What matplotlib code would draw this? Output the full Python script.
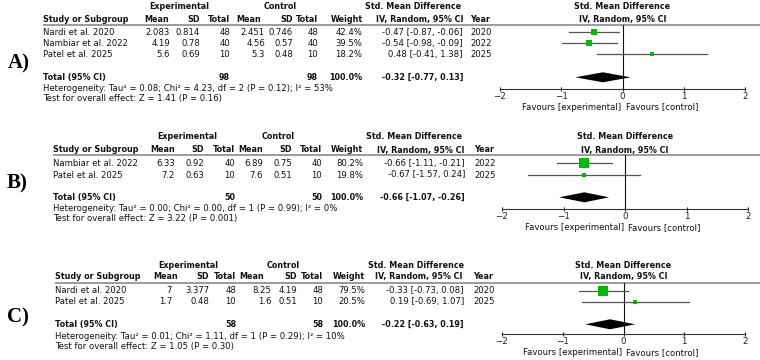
import matplotlib
matplotlib.use("Agg")
import matplotlib.pyplot as plt
from matplotlib.patches import Polygon

# ---------------- data ----------------
# Panel A
studies_A = ["Nardi et al. 2020", "Nambiar et al. 2022", "Patel et al. 2025"]
exp_mean_A = [2.083, 4.19, 5.6]
exp_sd_A = [0.814, 0.78, 0.69]
exp_n_A = [48, 40, 10]
ctl_mean_A = [2.451, 4.56, 5.3]
ctl_sd_A = [0.746, 0.57, 0.48]
ctl_n_A = [48, 40, 10]
weight_A = [42.4, 39.5, 18.2]
smd_A = [-0.47, -0.54, 0.48]
lo_A = [-0.87, -0.98, -0.41]
hi_A = [-0.06, -0.09, 1.38]
year_A = [2020, 2022, 2025]
total_n_A = [98, 98]
total_w_A = 100.0
pooled_A = [-0.32, -0.77, 0.13]
het_A = "Heterogeneity: Tau² = 0.08; Chi² = 4.23, df = 2 (P = 0.12); I² = 53%"
test_A = "Test for overall effect: Z = 1.41 (P = 0.16)"

# Panel B
studies_B = ["Nambiar et al. 2022", "Patel et al. 2025"]
exp_mean_B = [6.33, 7.2]
exp_sd_B = [0.92, 0.63]
exp_n_B = [40, 10]
ctl_mean_B = [6.89, 7.6]
ctl_sd_B = [0.75, 0.51]
ctl_n_B = [40, 10]
weight_B = [80.2, 19.8]
smd_B = [-0.66, -0.67]
lo_B = [-1.11, -1.57]
hi_B = [-0.21, 0.24]
year_B = [2022, 2025]
total_n_B = [50, 50]
total_w_B = 100.0
pooled_B = [-0.66, -1.07, -0.26]
het_B = "Heterogeneity: Tau² = 0.00; Chi² = 0.00, df = 1 (P = 0.99); I² = 0%"
test_B = "Test for overall effect: Z = 3.22 (P = 0.001)"

# Panel C
studies_C = ["Nardi et al. 2020", "Patel et al. 2025"]
exp_mean_C = [7, 1.7]
exp_sd_C = [3.377, 0.48]
exp_n_C = [48, 10]
ctl_mean_C = [8.25, 1.6]
ctl_sd_C = [4.19, 0.51]
ctl_n_C = [48, 10]
weight_C = [79.5, 20.5]
smd_C = [-0.33, 0.19]
lo_C = [-0.73, -0.69]
hi_C = [0.08, 1.07]
year_C = [2020, 2025]
total_n_C = [58, 58]
total_w_C = 100.0
pooled_C = [-0.22, -0.63, 0.19]
het_C = "Heterogeneity: Tau² = 0.01; Chi² = 1.11, df = 1 (P = 0.29); I² = 10%"
test_C = "Test for overall effect: Z = 1.05 (P = 0.30)"

ticks = [-2, -1, 0, 1, 2]

# ---------------- layout (pixels) ----------------
W, H = 760, 360
FS = 6.1
FSB = 5.8
GREEN = "#00bb00"

lay_A = dict(label="A)", lab_x=19, lab_y=63,
             hdr1=6.5, hdr2=19.5, line=25, rows=[32.3, 43.3, 54.3], total=77.3,
             het=88.3, test=99, axis=89, fav=107,
             sx=43, eM=170, eSD=200, eN=230, cM=265, cSD=293, cN=318, Wt=362.5,
             smd=463, yr=470, expc=179, ctlc=280, eMh=157, cMh=248.5,
             smdh1=413, smdh2=419.5, xm2=500, xp2=745)
lay_B = dict(label="B)", lab_x=17, lab_y=183,
             hdr1=136.7, hdr2=150, line=155, rows=[163.3, 175], total=197.3,
             het=208.3, test=219, axis=209.3, fav=227.3,
             sx=53, eM=175, eSD=204, eN=235, cM=263, cSD=292, cN=322, Wt=363,
             smd=465, yr=474, expc=187, ctlc=278.5, eMh=163, cMh=251,
             smdh1=414, smdh2=420.5, xm2=502, xp2=748)
lay_C = dict(label="C)", lab_x=18, lab_y=317,
             hdr1=265, hdr2=276.7, line=282.7, rows=[290.7, 301.7], total=324.3,
             het=336.7, test=346.7, axis=334.3, fav=352.5,
             sx=55, eM=172, eSD=209, eN=236, cM=271, cSD=297, cN=323, Wt=365,
             smd=464, yr=473, expc=188.5, ctlc=283, eMh=166, cMh=252,
             smdh1=416, smdh2=419, xm2=502, xp2=745)

fig = plt.figure(figsize=(W / 100, H / 100), dpi=100)
bg = fig.add_axes([0, 0, 1, 1])
bg.set_xlim(0, W)
bg.set_ylim(H, 0)
bg.axis("off")


def T(x, y, s, ha="left", bold=False, size=None):
    bg.text(x, y, s, ha=ha, va="center",
            fontsize=(size if size else (FSB if bold else FS)),
            fontweight="bold" if bold else "normal", color="#111111")


def fmt_ci(s, l, h):
    return f"{s:.2f} [{l:.2f}, {h:.2f}]"


def panel(L, studies, em, esd, en, cm, csd, cn, wt, smd, lo, hi, yr,
          ntot, wtot, pooled, het, test):
    # label
    bg.text(L["lab_x"], L["lab_y"], L["label"], ha="center", va="center",
            fontsize=15, fontweight="bold", family="Liberation Serif")
    xz = L["xm2"] + (L["xp2"] - L["xm2"]) / 2
    # header row 1
    T(L["expc"], L["hdr1"], "Experimental", ha="center", bold=True)
    T(L["ctlc"], L["hdr1"], "Control", ha="center", bold=True)
    T(L["smdh1"], L["hdr1"], "Std. Mean Difference", ha="center", bold=True)
    T(xz, L["hdr1"], "Std. Mean Difference", ha="center", bold=True)
    # header row 2
    T(L["sx"], L["hdr2"], "Study or Subgroup", bold=True)
    T(L["eMh"], L["hdr2"], "Mean", ha="center", bold=True)
    T(L["eSD"], L["hdr2"], "SD", ha="right", bold=True)
    T(L["eN"], L["hdr2"], "Total", ha="right", bold=True)
    T(L["cMh"], L["hdr2"], "Mean", ha="center", bold=True)
    T(L["cSD"], L["hdr2"], "SD", ha="right", bold=True)
    T(L["cN"], L["hdr2"], "Total", ha="right", bold=True)
    T(L["Wt"], L["hdr2"], "Weight", ha="right", bold=True)
    T(L["smdh2"], L["hdr2"], "IV, Random, 95% CI", ha="center", bold=True)
    T(L["yr"], L["hdr2"], "Year", bold=True)
    T(xz, L["hdr2"], "IV, Random, 95% CI", ha="center", bold=True)
    bg.plot([L["sx"], W], [L["line"], L["line"]], color="#8a8a8a", lw=1.2,
            solid_capstyle="butt")
    # study rows
    for i, y in enumerate(L["rows"]):
        T(L["sx"], y, studies[i])
        T(L["eM"], y, f"{em[i]:g}", ha="right")
        T(L["eSD"], y, f"{esd[i]:g}", ha="right")
        T(L["eN"], y, f"{en[i]}", ha="right")
        T(L["cM"], y, f"{cm[i]:g}", ha="right")
        T(L["cSD"], y, f"{csd[i]:g}", ha="right")
        T(L["cN"], y, f"{cn[i]}", ha="right")
        T(L["Wt"], y, f"{wt[i]:.1f}%", ha="right")
        T(L["smd"], y, fmt_ci(smd[i], lo[i], hi[i]), ha="right")
        T(L["yr"], y, f"{yr[i]}")
    # total row
    y = L["total"]
    T(L["sx"], y, "Total (95% CI)", bold=True)
    T(L["eN"], y, f"{ntot[0]}", ha="right", bold=True)
    T(L["cN"], y, f"{ntot[1]}", ha="right", bold=True)
    T(L["Wt"], y, f"{wtot:.1f}%", ha="right", bold=True)
    T(L["smd"], y, fmt_ci(*pooled), ha="right", bold=True)
    T(L["sx"], L["het"], het)
    T(L["sx"], L["test"], test)
    # forest plot axes
    ax = fig.add_axes([L["xm2"] / W, 1 - L["axis"] / H,
                       (L["xp2"] - L["xm2"]) / W, (L["axis"] - L["line"]) / H])
    ax.set_xlim(ticks[0], ticks[-1])
    ax.set_ylim(L["axis"], L["line"])
    ax.patch.set_alpha(0)
    for s in ["top", "left", "right"]:
        ax.spines[s].set_visible(False)
    ax.spines["bottom"].set_linewidth(0.8)
    ax.spines["bottom"].set_color("#333333")
    ax.set_yticks([])
    ax.set_xticks(ticks)
    ax.set_xticklabels([("−" if t < 0 else "") + str(abs(t)) for t in ticks])
    ax.tick_params(axis="x", direction="inout", length=3.5, width=0.8,
                   labelsize=6.3, pad=0.3, colors="#222222")
    ax.axvline(0, color="#111111", lw=0.8)
    for i, y in enumerate(L["rows"]):
        ax.plot([lo[i], hi[i]], [y, y], color="#555555", lw=0.9, clip_on=False)
        side_px = 0.12 * wt[i] + 1.1
        ax.plot(smd[i], y, marker="s", ms=side_px * 0.72, mew=0, color=GREEN,
                clip_on=False)
    s0, l0, h0 = pooled
    yt = L["total"]
    ax.add_patch(Polygon([(l0, yt), (s0, yt - 5), (h0, yt), (s0, yt + 5)],
                         closed=True, color="black", lw=0, clip_on=False))
    T(xz - 1, L["fav"], "Favours [experimental]", ha="right")
    T(xz + 3, L["fav"], "Favours [control]", ha="left")


panel(lay_A, studies_A, exp_mean_A, exp_sd_A, exp_n_A, ctl_mean_A, ctl_sd_A,
      ctl_n_A, weight_A, smd_A, lo_A, hi_A, year_A, total_n_A, total_w_A,
      pooled_A, het_A, test_A)
panel(lay_B, studies_B, exp_mean_B, exp_sd_B, exp_n_B, ctl_mean_B, ctl_sd_B,
      ctl_n_B, weight_B, smd_B, lo_B, hi_B, year_B, total_n_B, total_w_B,
      pooled_B, het_B, test_B)
panel(lay_C, studies_C, exp_mean_C, exp_sd_C, exp_n_C, ctl_mean_C, ctl_sd_C,
      ctl_n_C, weight_C, smd_C, lo_C, hi_C, year_C, total_n_C, total_w_C,
      pooled_C, het_C, test_C)

fig.savefig("out.png", dpi=100)
